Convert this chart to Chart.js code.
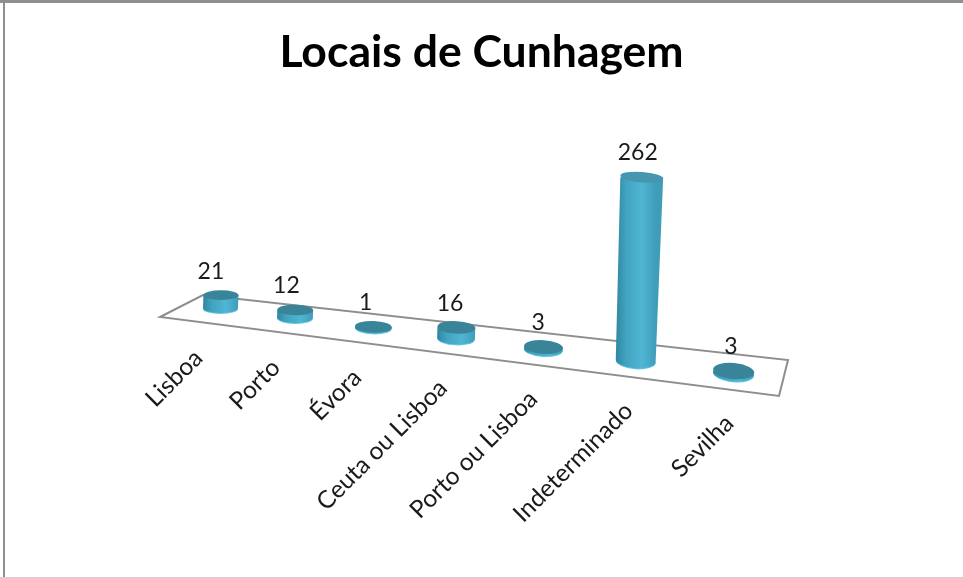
<!DOCTYPE html>
<html>
<head>
<meta charset="utf-8">
<title>Locais de Cunhagem</title>
<script src="https://cdn.jsdelivr.net/npm/chart.js@4"></script>
<style>
html, body { margin: 0; padding: 0; background: #fff; }
#wrap { position: relative; width: 963px; height: 578px; overflow: hidden; }
</style>
</head>
<body>
<div id="wrap"><canvas id="grafico" width="963" height="578"></canvas></div>
<script>
const locais = ["Lisboa", "Porto", "Évora", "Ceuta ou Lisboa", "Porto ou Lisboa", "Indeterminado", "Sevilha"];
const moedas = [21, 12, 1, 16, 3, 262, 3];
const titulo = "Locais de Cunhagem";

// the original is a 3D chart, so scale pixels go through a perspective before painting
function perspetiva(chart, px) {
    const t = chart.scales.x.getDecimalForPixel(px) * locais.length - 0.5;
    const k = 1 / (1 - 0.02523 * t);
    const x = (220.5 + 67 * t) * k;
    return { t: t, k: k, x: x, y: 308 + 0.127 * (x - 220) };
}

function elipse(ctx, x, y, rx, ry, rot, cor) {
    ctx.beginPath();
    ctx.ellipse(x, y, rx, ry, rot, 0, Math.PI * 2);
    ctx.fillStyle = cor;
    ctx.fill();
}

function cilindro(ctx, chart, el) {
    const p = perspetiva(chart, el.x);
    const h = (el.base - el.y) * p.k;
    const w = el.width * p.k;
    const lean = h * 0.033;
    const wt = w * (1 + h * 0.0004);
    const ry = w * (0.143 + 0.0087 * p.t);
    const ryt = ry - h * 0.012;
    const rot = 0.015 * p.t;
    const xt = p.x + lean;
    const yt = p.y - h;

    elipse(ctx, p.x, p.y + 1, w / 2, ry, rot, "#62c6e0");

    const g = ctx.createLinearGradient(p.x - w / 2, 0, p.x + w / 2, 0);
    g.addColorStop(0, "#2f86a0");
    g.addColorStop(0.25, "#41a3c0");
    g.addColorStop(0.65, "#50b6d3");
    g.addColorStop(1, "#3f9dba");
    ctx.beginPath();
    ctx.moveTo(xt - wt / 2, yt);
    ctx.lineTo(p.x - w / 2, p.y);
    ctx.ellipse(p.x, p.y, w / 2, ry, rot, Math.PI, 0, true);
    ctx.lineTo(xt + wt / 2, yt);
    ctx.closePath();
    ctx.fillStyle = g;
    ctx.fill();

    elipse(ctx, xt, yt, wt / 2, ryt, rot, h > 50 ? "#4597af" : "#3a8499");
    return { x: xt, y: yt, h: h, p: p };
}

const cena3d = {
    id: "cena3d",
    beforeDatasetsDraw(chart) {
        const ctx = chart.ctx;
        ctx.save();
        ctx.strokeStyle = "#8e8e8e";
        ctx.lineWidth = 2;
        ctx.fillStyle = "#ffffff";
        ctx.beginPath();
        ctx.moveTo(160, 317);
        ctx.lineTo(203, 295);
        ctx.lineTo(788, 360);
        ctx.lineTo(779, 396);
        ctx.closePath();
        ctx.fill();
        ctx.stroke();
        ctx.restore();
    },
    beforeDatasetDraw(chart, args) {
        const ctx = chart.ctx;
        const barras = args.meta.data;
        ctx.save();
        const topos = barras.map(function(el) {
            return cilindro(ctx, chart, el);
        });
        ctx.fillStyle = "#1a1a1a";
        ctx.textAlign = "center";
        ctx.textBaseline = "middle";
        ctx.font = "23px Lato";
        topos.forEach(function(c, i) {
            ctx.fillText(String(moedas[i]), c.x - 10 + 1.2 * c.p.t, c.y - 24 - c.h * 0.005);
        });
        ctx.font = "24.5px Lato";
        ctx.textAlign = "right";
        topos.forEach(function(c, i) {
            ctx.save();
            ctx.translate(c.p.x - 22 + 3 * c.p.t, c.p.y + 46);
            ctx.rotate(-Math.PI / 4);
            ctx.fillText(locais[i], 0, 0);
            ctx.restore();
        });
        ctx.restore();
        return false;
    },
    afterDraw(chart) {
        const ctx = chart.ctx;
        ctx.save();
        ctx.fillStyle = "#8f8f8f";
        ctx.fillRect(0, 0, 963, 3);
        ctx.fillRect(3, 0, 2, 578);
        ctx.fillStyle = "#d0d0d0";
        ctx.fillRect(0, 577, 963, 1);
        ctx.restore();
    }
};

new Chart(document.getElementById("grafico"), {
    type: "bar",
    plugins: [cena3d],
    data: {
        labels: locais,
        datasets: [{
            label: titulo,
            data: moedas,
            backgroundColor: "#3c9cb9",
            categoryPercentage: 1,
            barPercentage: 0.32
        }]
    },
    options: {
        responsive: false,
        animation: false,
        layout: { padding: { left: 100, right: 100, top: 0, bottom: 308 } },
        plugins: {
            legend: { display: false },
            tooltip: { enabled: false },
            title: {
                display: true,
                text: titulo,
                color: "#000000",
                font: { family: "Lato", size: 44.5, weight: "bold" },
                padding: { top: 26, bottom: 13 }
            }
        },
        scales: {
            x: { display: false },
            y: { display: false, min: 0, max: 290 }
        }
    }
});
</script>
</body>
</html>
